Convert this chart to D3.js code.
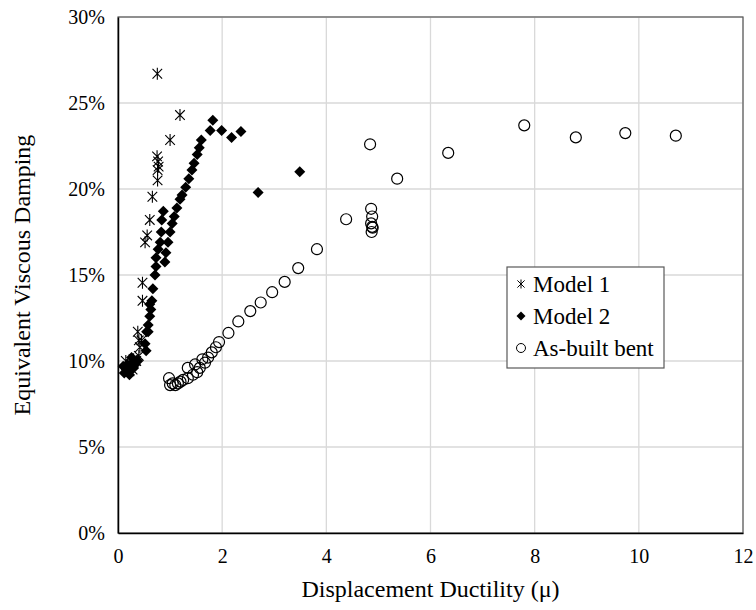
<!DOCTYPE html>
<html><head><meta charset="utf-8">
<script src="https://cdn.jsdelivr.net/npm/d3@7"></script>
<style>body{margin:0;background:#fff}</style>
</head><body>
<svg id="c" width="756" height="610"></svg>
<script>
const xTicks = [0,2,4,6,8,10,12];
const yTicks = [0,0.05,0.10,0.15,0.20,0.25,0.30];
const seriesNames = ["Model 1","Model 2","As-built bent"];

const model1X = [0.755,1.19,1.0,0.75,0.77,0.78,0.76,0.76,0.66,0.61,0.56,0.52,0.47,0.47,0.38,0.40,0.15,0.20,0.25,0.30,0.35,0.40,0.42,0.45,0.22,0.28];
const model1Y = [0.267,0.243,0.2285,0.219,0.216,0.213,0.211,0.205,0.1955,0.182,0.173,0.169,0.1455,0.135,0.117,0.112,0.100,0.096,0.098,0.101,0.100,0.103,0.108,0.112,0.094,0.095];

const model2X = [1.82,1.77,1.99,2.18,2.36,3.49,2.69,1.60,1.56,1.52,1.46,1.42,1.36,1.30,1.23,1.19,1.13,1.08,1.04,1.00,0.96,0.92,0.90,0.87,0.84,0.83,0.81,0.77,0.73,0.73,0.71,0.67,0.65,0.61,0.63,0.61,0.58,0.58,0.55,0.52,0.54,0.38,0.33,0.28,0.24,0.20,0.16,0.12,0.10,0.18,0.26,0.30,0.22];
const model2Y = [0.240,0.234,0.234,0.230,0.2335,0.210,0.198,0.2285,0.224,0.220,0.215,0.211,0.206,0.201,0.1965,0.194,0.189,0.184,0.180,0.175,0.169,0.163,0.1575,0.187,0.182,0.175,0.169,0.165,0.160,0.155,0.150,0.142,0.135,0.133,0.130,0.126,0.121,0.117,0.117,0.110,0.106,0.100,0.098,0.099,0.096,0.094,0.095,0.093,0.097,0.098,0.102,0.096,0.092];

const asbuiltX = [10.71,9.74,8.79,7.80,6.34,5.36,4.84,4.86,4.88,4.86,4.89,4.87,4.88,4.38,3.82,3.46,3.20,2.96,2.74,2.54,2.31,2.12,1.94,1.88,1.80,1.73,1.67,1.57,1.52,1.44,1.34,1.25,1.15,1.10,1.00,0.98,1.34,1.48,1.62,1.20,1.05];
const asbuiltY = [0.231,0.2325,0.230,0.237,0.221,0.206,0.226,0.1885,0.184,0.180,0.1775,0.175,0.178,0.1824,0.165,0.154,0.146,0.140,0.134,0.129,0.123,0.1163,0.111,0.108,0.105,0.102,0.099,0.096,0.0935,0.092,0.090,0.089,0.087,0.086,0.086,0.090,0.096,0.098,0.101,0.088,0.087];

const svg = d3.select("#c");
const L=118, R=743, T=17, B=533;
const x = d3.scaleLinear().domain([0,12]).range([L,R]);
const y = d3.scaleLinear().domain([0,0.30]).range([B,T]);
const font = "'Liberation Serif','Times New Roman',serif";

// gridlines
svg.append("g").selectAll("line.h").data(yTicks.slice(1)).join("line")
  .attr("x1",L).attr("x2",R).attr("y1",d=>y(d)).attr("y2",d=>y(d))
  .attr("stroke","#d9d9d9").attr("stroke-width",1.3);
svg.append("g").selectAll("line.v").data(xTicks.slice(1)).join("line")
  .attr("y1",T).attr("y2",B).attr("x1",d=>x(d)).attr("x2",d=>x(d))
  .attr("stroke","#d9d9d9").attr("stroke-width",1.3);

// border
svg.append("rect").attr("x",L).attr("y",T).attr("width",R-L).attr("height",B-T)
  .attr("fill","none").attr("stroke","#595959").attr("stroke-width",1.2);

// axes
const xAxis = svg.append("g").attr("transform",`translate(0,${B})`)
  .call(d3.axisBottom(x).tickValues(xTicks).tickSize(0).tickPadding(12).tickFormat(d3.format("d")));
const yAxis = svg.append("g").attr("transform",`translate(${L},0)`)
  .call(d3.axisLeft(y).tickValues(yTicks).tickSize(0).tickPadding(13).tickFormat(d3.format(".0%")));
[xAxis,yAxis].forEach(a=>{
  a.attr("font-family",font).attr("font-size",20);
  a.select(".domain").attr("stroke","#000").attr("stroke-width",1.5);
  a.selectAll("text").style("font-family",font).style("font-size","20px").attr("fill","#000");
});
xAxis.selectAll("text").attr("dy","0.9em");

// titles
svg.append("text").attr("x",(L+R)/2).attr("y",597).attr("text-anchor","middle")
  .style("font-family",font).style("font-size","24px").text("Displacement Ductility (μ)");
svg.append("text").attr("transform",`translate(30,${(T+B)/2}) rotate(-90)`).attr("text-anchor","middle")
  .style("font-family",font).style("font-size","24px").text("Equivalent Viscous Damping");

// markers
const starPath = s => `M0,${-s}V${s}M${-s*0.8},${-s*0.8}L${s*0.8},${s*0.8}M${-s*0.8},${s*0.8}L${s*0.8},${-s*0.8}`;
const diamond = s => `M0,${-s}L${s},0L0,${s}L${-s},0Z`;

const d1 = model1X.map((v,i)=>[v,model1Y[i]]);
const d2 = model2X.map((v,i)=>[v,model2Y[i]]);
const d3s = asbuiltX.map((v,i)=>[v,asbuiltY[i]]);

svg.append("g").selectAll("circle").data(d3s).join("circle")
  .attr("cx",d=>x(d[0])).attr("cy",d=>y(d[1])).attr("r",5.5)
  .attr("fill","none").attr("stroke","#000").attr("stroke-width",1.2);
svg.append("g").selectAll("path").data(d2).join("path")
  .attr("transform",d=>`translate(${x(d[0])},${y(d[1])})`).attr("d",diamond(5.5)).attr("fill","#000");
svg.append("g").selectAll("path").data(d1).join("path")
  .attr("transform",d=>`translate(${x(d[0])},${y(d[1])})`).attr("d",starPath(6)).attr("fill","none")
  .attr("stroke","#000").attr("stroke-width",1.1);

// legend
const lg = svg.append("g");
lg.append("rect").attr("x",507).attr("y",267).attr("width",157).attr("height",101)
  .attr("fill","#fff").attr("stroke","#595959").attr("stroke-width",1.2);
const ly = [284,316,348];
seriesNames.forEach((n,i)=>{
  const cx=521, cy=ly[i];
  if(i===0) lg.append("path").attr("transform",`translate(${cx},${cy})`).attr("d",starPath(4.5)).attr("stroke","#000").attr("stroke-width",1);
  if(i===1) lg.append("path").attr("transform",`translate(${cx},${cy})`).attr("d",diamond(4.5)).attr("fill","#000");
  if(i===2) lg.append("circle").attr("cx",cx).attr("cy",cy).attr("r",4.5).attr("fill","none").attr("stroke","#000").attr("stroke-width",1);
  lg.append("text").attr("x",533).attr("y",cy).attr("dy","0.35em").style("font-family",font).style("font-size","23px").text(n);
});
</script>
</body></html>
